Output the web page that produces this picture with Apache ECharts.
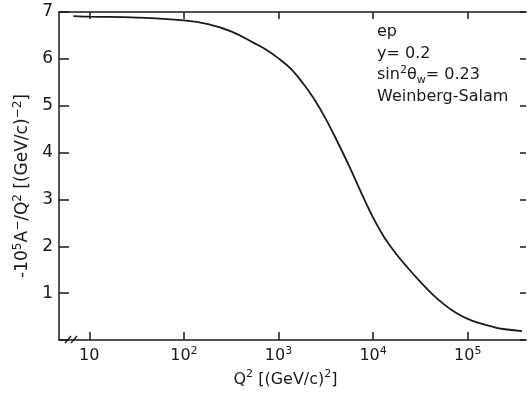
<!DOCTYPE html>
<html>
<head>
<meta charset="utf-8">
<script src="https://cdn.jsdelivr.net/npm/echarts@6/dist/echarts.min.js"></script>
<style>
html,body{margin:0;padding:0;background:#fff;}
#c{width:527px;height:394px;}
</style>
</head>
<body>
<div id="c"></div>
<script>
// Q^2 values [(GeV/c)^2] and -10^5 A^-/Q^2 values
var q2 = [6.8, 10, 32, 100, 180, 320, 560, 750, 1000, 1330, 1780, 2370, 3160, 4220, 5620, 7500, 10000, 13300, 17800, 23700, 31600, 42200, 56200, 75000, 100000, 133000, 178000, 237000, 375000];
var asym = [6.91, 6.90, 6.88, 6.82, 6.74, 6.58, 6.33, 6.19, 6.01, 5.80, 5.50, 5.15, 4.72, 4.22, 3.70, 3.14, 2.61, 2.17, 1.82, 1.52, 1.24, 0.98, 0.76, 0.58, 0.45, 0.36, 0.29, 0.235, 0.19];
var xTickExponents = [1, 2, 3, 4, 5];
var xTickLabels = ['10', '10{sup|2}', '10{sup|3}', '10{sup|4}', '10{sup|5}'];
var yTicks = [1, 2, 3, 4, 5, 6, 7];
var notes = ['ep', 'y= 0.2', 'sin{sup|2}\u03b8{sub|w}= 0.23', 'Weinberg-Salam'];

var FONT = 'DejaVu Sans';
var INK = '#1a1a1a';
var xMin = 0.68, xMax = 5.616;

var points = q2.map(function (q, i) { return [Math.log10(q), asym[i]]; });

function toRich(s) {
  return '{n|' + s.replace(/\{sup\|([^}]+)\}/g, '}{sup|$1}{n|').replace(/\{sub\|([^}]+)\}/g, '}{sub|$1}{n|') + '}';
}

function richSet(size, sub, lh) {
  return {
    sup: { fontSize: sub, fontFamily: FONT, color: INK, verticalAlign: 'top', lineHeight: lh },
    sub: { fontSize: sub, fontFamily: FONT, color: INK, verticalAlign: 'bottom', lineHeight: lh },
    n: { fontSize: size, fontFamily: FONT, color: INK, lineHeight: lh }
  };
}

var chart = echarts.init(document.getElementById('c'), null, { renderer: 'canvas' });
chart.setOption({
  animation: false,
  backgroundColor: '#fff',
  grid: { left: 59, top: 12, right: 1, bottom: 54 },
  title: {
    left: 372, top: 16,
    text: notes.map(toRich).join('\n'),
    textStyle: { rich: richSet(16, 11, 21.7), fontSize: 16, fontFamily: FONT, color: INK, fontWeight: 'normal', lineHeight: 21.7 }
  },
  xAxis: [{
    type: 'value', min: xMin, max: xMax, position: 'bottom',
    splitLine: { show: false },
    axisLine: { onZero: false, lineStyle: { color: INK, width: 1.5 } },
    axisTick: { inside: true, length: 8, customValues: xTickExponents, lineStyle: { color: INK, width: 1.5 } },
    axisLabel: {
      customValues: xTickExponents, margin: 6,
      formatter: function (v) { var i = xTickExponents.indexOf(Math.round(v)); return toRich(xTickLabels[i]); },
      rich: richSet(16, 11, 20)
    },
    name: toRich('Q{sup|2} [(GeV/c){sup|2}]'),
    nameLocation: 'middle', nameGap: 26,
    nameTextStyle: { rich: richSet(16, 11, 22), padding: [0, 14, 0, 0] }
  }, {
    type: 'value', min: xMin, max: xMax, position: 'top',
    splitLine: { show: false },
    axisLine: { show: true, onZero: false, lineStyle: { color: INK, width: 1.5 } },
    axisTick: { show: true, inside: true, length: 7, customValues: xTickExponents, lineStyle: { color: INK, width: 1.5 } },
    axisLabel: { show: false }
  }],
  yAxis: [{
    type: 'value', min: 0, max: 7, interval: 1, position: 'left',
    splitLine: { show: false },
    axisLine: { show: true, onZero: false, lineStyle: { color: INK, width: 1.5 } },
    axisTick: { inside: true, length: 10, lineStyle: { color: INK, width: 1.5 } },
    axisLabel: {
      margin: 6, fontSize: 17, fontFamily: FONT, color: INK,
      formatter: function (v) { return yTicks.indexOf(v) >= 0 ? String(v) : ''; }
    },
    name: toRich('-10{sup|5}A{sup|\u2212}/Q{sup|2} [(GeV/c){sup|\u22122}]'),
    nameLocation: 'middle', nameRotate: 90, nameGap: 24,
    nameTextStyle: { rich: richSet(17, 12, 22), padding: [0, 20, 0, 0] }
  }, {
    type: 'value', min: 0, max: 7, interval: 1, position: 'right',
    splitLine: { show: false },
    axisLine: { show: false, onZero: false },
    axisTick: { show: true, inside: true, length: 6, lineStyle: { color: INK, width: 1.5 } },
    axisLabel: { show: false }
  }],
  series: [{
    type: 'line', data: points, xAxisIndex: 0, yAxisIndex: 0,
    smooth: 0.4, showSymbol: false,
    lineStyle: { color: INK, width: 1.8 }
  }],
  graphic: [
    { type: 'line', shape: { x1: 65, y1: 343, x2: 71, y2: 336 }, style: { stroke: INK, lineWidth: 1.3 } },
    { type: 'line', shape: { x1: 71, y1: 343, x2: 77, y2: 336 }, style: { stroke: INK, lineWidth: 1.3 } }
  ]
});
</script>
</body>
</html>
